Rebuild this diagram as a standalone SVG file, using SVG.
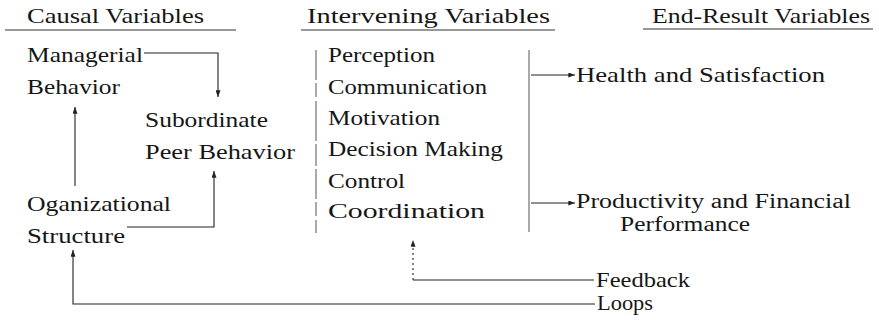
<svg xmlns="http://www.w3.org/2000/svg" width="879" height="322" viewBox="0 0 879 322">
<style>
text{font-family:"Liberation Serif","Times New Roman",serif;font-size:21.5px;fill:#161616}
.sm{font-size:20px}
.c{fill:none;stroke:#222;stroke-width:1.1}
.u{stroke:#333;stroke-width:1.2}
.br{stroke:#555;stroke-width:1}
.dot{stroke-dasharray:2 3}
</style>
<defs>
<marker id="ah" viewBox="0 0 8 6" refX="8" refY="3" markerWidth="7" markerHeight="5" orient="auto" markerUnits="userSpaceOnUse">
<path d="M0,0 L8,3 L0,6 Z" fill="#222"/>
</marker>
</defs>
<rect width="879" height="322" fill="#fff"/>
<g id="headers">
<text x="27" y="23" textLength="177" lengthAdjust="spacingAndGlyphs">Causal Variables</text>
<line class="u" x1="5" y1="30" x2="236" y2="30"/>
<text x="307" y="23" textLength="243" lengthAdjust="spacingAndGlyphs">Intervening Variables</text>
<line class="u" x1="301" y1="30" x2="555" y2="30"/>
<text x="652" y="23" textLength="218" lengthAdjust="spacingAndGlyphs">End-Result Variables</text>
<line class="u" x1="643" y1="29" x2="873" y2="29"/>
</g>
<g id="managerial-behavior">
<text x="27" y="62" textLength="116" lengthAdjust="spacingAndGlyphs">Managerial</text>
<text x="27" y="94" textLength="93" lengthAdjust="spacingAndGlyphs">Behavior</text>
</g>
<g id="subordinate-peer-behavior">
<text x="145" y="127" textLength="123" lengthAdjust="spacingAndGlyphs">Subordinate</text>
<text x="145" y="159" textLength="150" lengthAdjust="spacingAndGlyphs">Peer Behavior</text>
</g>
<g id="organizational-structure">
<text x="27" y="211" textLength="144" lengthAdjust="spacingAndGlyphs">Oganizational</text>
<text x="27" y="243" textLength="98" lengthAdjust="spacingAndGlyphs">Structure</text>
</g>
<g id="intervening-variables">
<line class="br" x1="316" y1="50" x2="316" y2="233" stroke-dasharray="30 3 14 4 40 3 22 3"/>
<text x="328" y="62" textLength="107" lengthAdjust="spacingAndGlyphs">Perception</text>
<text x="328" y="94" textLength="159" lengthAdjust="spacingAndGlyphs">Communication</text>
<text x="328" y="125" textLength="112" lengthAdjust="spacingAndGlyphs">Motivation</text>
<text x="328" y="156" textLength="175" lengthAdjust="spacingAndGlyphs">Decision Making</text>
<text x="328" y="188" textLength="77" lengthAdjust="spacingAndGlyphs">Control</text>
<text x="328" y="218" textLength="157" lengthAdjust="spacingAndGlyphs">Coordination</text>
<line class="br" x1="529" y1="50" x2="529" y2="232"/>
</g>
<g id="health-satisfaction">
<text x="576" y="82" textLength="249" lengthAdjust="spacingAndGlyphs">Health and Satisfaction</text>
</g>
<g id="productivity-performance">
<text class="sm" x="576" y="208" textLength="275" lengthAdjust="spacingAndGlyphs">Productivity and Financial</text>
<text class="sm" x="620" y="231" textLength="130" lengthAdjust="spacingAndGlyphs">Performance</text>
</g>
<g id="feedback">
<text x="596" y="287" textLength="94" lengthAdjust="spacingAndGlyphs">Feedback</text>
</g>
<g id="loops">
<text x="597" y="310" textLength="56" lengthAdjust="spacingAndGlyphs">Loops</text>
</g>
<g id="connectors">
<path class="c" d="M144 53 H218 V97" marker-end="url(#ah)"/>
<path class="c" d="M75 186 V107" marker-end="url(#ah)"/>
<path class="c" d="M127 227 H214 V171" marker-end="url(#ah)"/>
<path class="c" d="M594 280 H413"/>
<path class="c dot" d="M413 280 V240" marker-end="url(#ah)"/>
<path class="c" d="M595 304 H73 V250" marker-end="url(#ah)"/>
<path class="c" d="M531 75 H575" marker-end="url(#ah)"/>
<path class="c" d="M531 203 H575" marker-end="url(#ah)"/>
</g>
</svg>
